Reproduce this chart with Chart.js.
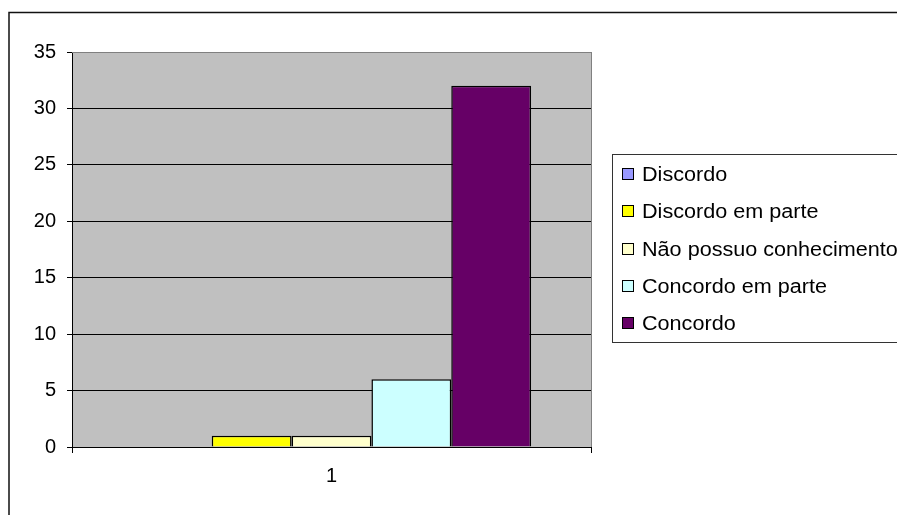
<!DOCTYPE html>
<html>
<head>
<meta charset="utf-8">
<script src="https://cdn.jsdelivr.net/npm/chart.js@4/dist/chart.umd.min.js"></script>
<style>
  html, body { margin: 0; padding: 0; background: #ffffff; }
  canvas { display: block; }
</style>
</head>
<body>
<canvas id="chart" width="897" height="515"></canvas>
<script>
// Survey answers, one category
const categories = ['1'];
const seriesNames = ['Discordo', 'Discordo em parte', 'Não possuo conhecimento', 'Concordo em parte', 'Concordo'];
const seriesValues = [0, 1, 1, 6, 32];
const seriesColors = ['#9999FF', '#FFFF00', '#FFFFCC', '#CCFFFF', '#660066'];
const yMin = 0;
const yMax = 35;
const yStep = 5;

const FONT = "'Liberation Sans', Arial, sans-serif";

// Grey plot background, frame around the whole figure and boxed legend
const decorations = {
  id: 'decorations',
  beforeDraw(chart) {
    const { ctx, chartArea: a } = chart;
    ctx.save();
    ctx.fillStyle = '#ffffff';
    ctx.fillRect(0, 0, chart.width, chart.height);
    ctx.fillStyle = '#C0C0C0';
    ctx.fillRect(a.left, a.top, a.right - a.left, a.bottom - a.top);
    ctx.restore();
  },
  afterDraw(chart) {
    const { ctx, chartArea: a } = chart;
    ctx.save();
    // outer frame
    ctx.strokeStyle = '#111111';
    ctx.lineWidth = 1.5;
    ctx.strokeRect(9, 12.5, 1000, 1000);

    // plot-area top and right edges
    ctx.strokeStyle = '#808080';
    ctx.lineWidth = 1;
    ctx.beginPath();
    ctx.moveTo(a.left, Math.round(a.top) + 0.5);
    ctx.lineTo(Math.round(a.right) + 0.5, Math.round(a.top) + 0.5);
    ctx.lineTo(Math.round(a.right) + 0.5, a.bottom);
    ctx.stroke();

    // legend
    const lx = 612.5, ly = 154.5, lw = 400, lh = 188;
    ctx.strokeStyle = '#333333';
    ctx.lineWidth = 1;
    ctx.fillStyle = '#ffffff';
    ctx.fillRect(lx, ly, lw, lh);
    ctx.strokeRect(lx, ly, lw, lh);

    const ds = chart.data.datasets;
    ctx.font = '20px ' + FONT;
    ctx.textBaseline = 'alphabetic';
    ctx.textAlign = 'left';
    ds.forEach((d, i) => {
      const cy = 174 + i * 37.3;
      // marker
      ctx.fillStyle = d.backgroundColor;
      ctx.fillRect(622, Math.round(cy) - 6, 12, 12);
      ctx.strokeStyle = '#000000';
      ctx.strokeRect(622.5, Math.round(cy) - 5.5, 11, 11);
      // label, slightly widened
      ctx.fillStyle = '#000000';
      ctx.save();
      ctx.translate(642, cy + 7);
      ctx.scale(1.08, 1);
      ctx.fillText(d.label, 0, 0);
      ctx.restore();
    });
    ctx.restore();
  }
};

const datasets = seriesNames.map((name, i) => ({
  label: name,
  data: [seriesValues[i]],
  backgroundColor: seriesColors[i],
  borderColor: '#000000',
  borderWidth: 1.5,
  categoryPercentage: 5 / 6.5,
  barPercentage: 1
}));

new Chart(document.getElementById('chart'), {
  type: 'bar',
  data: { labels: categories, datasets },
  options: {
    responsive: false,
    animation: false,
    devicePixelRatio: 1,
    layout: { padding: { left: 0, top: 52, right: 306, bottom: 0 } },
    plugins: {
      legend: { display: false },
      tooltip: { enabled: false }
    },
    scales: {
      x: {
        offset: true,
        grid: {
          offset: true,
          color: '#808080',
          tickColor: '#000000',
          tickLength: 6,
          drawOnChartArea: true
        },
        border: { display: true, color: '#000000', width: 1 },
        ticks: {
          color: '#000000',
          font: { family: FONT, size: 20 },
          padding: 11,
          maxRotation: 0
        },
        afterFit(scale) { scale.height = 68; }
      },
      y: {
        min: yMin,
        max: yMax,
        grid: {
          color: (c) => (c.tick && c.tick.value === yMax ? '#808080' : '#000000'),
          tickColor: '#000000',
          tickLength: 5
        },
        border: { display: true, color: '#000000', width: 1 },
        ticks: {
          stepSize: yStep,
          color: '#000000',
          font: { family: FONT, size: 20 },
          padding: 11
        },
        afterFit(scale) { scale.width = 72; }
      }
    }
  },
  plugins: [decorations]
});
</script>
</body>
</html>
